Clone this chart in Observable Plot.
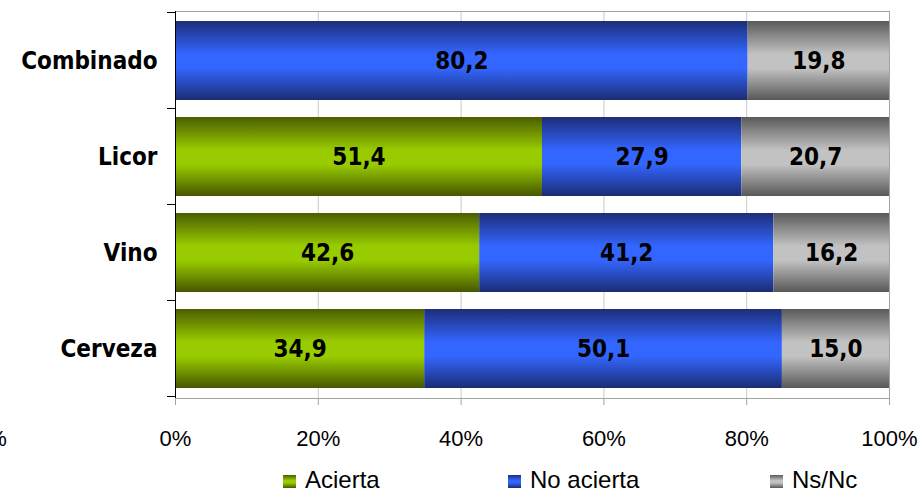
<!DOCTYPE html>
<html>
<head>
<meta charset="utf-8">
<script src="https://cdn.jsdelivr.net/npm/d3@7"></script>
<script src="https://cdn.jsdelivr.net/npm/@observablehq/plot@0.6"></script>
<style>
  html, body { margin: 0; padding: 0; background: #fff; overflow: hidden; }
  #wrap { position: relative; width: 922px; height: 493px; }
  .leg-sw { position: absolute; width: 13px; height: 13px; }
  .leg-tx { position: absolute; font: 24px "Liberation Sans", Arial, sans-serif; color: #000; line-height: 22px; white-space: nowrap; }
  #frag { position: absolute; left: -25px; top: 426px; font: 22px "Liberation Sans", Arial, sans-serif; color: #000; white-space: nowrap; }
</style>
</head>
<body>
<div id="wrap"></div>
<script>
// ---- data ----
const categories = ["Combinado", "Licor", "Vino", "Cerveza"];
const series = ["Acierta", "No acierta", "Ns/Nc"];
const acierta   = [0, 51.4, 42.6, 34.9];   // Combinado has no "Acierta" segment
const noAcierta = [80.2, 27.9, 41.2, 50.1];
const nsnc      = [19.8, 20.7, 16.2, 15.0];
const xTicks = [0, 20, 40, 60, 80, 100];
const xTickLabels = ["0%", "20%", "40%", "60%", "80%", "100%"];

// ---- styles ----
const gradients = {
  Acierta:      {id: "gA", dark0: "#4b5e00", mid: "#99cc00", dark1: "#455700"},
  "No acierta": {id: "gB", dark0: "#1c2e78", mid: "#3366ff", dark1: "#1b2c72"},
  "Ns/Nc":      {id: "gC", dark0: "#5a5a5a", mid: "#c2c2c2", dark1: "#585858"}
};
const boldFont = '"DejaVu Sans Condensed", "DejaVu Sans", sans-serif';

const valuesBySeries = [acierta, noAcierta, nsnc];
const data = [];
categories.forEach((cat, i) => {
  series.forEach((s, j) => {
    const v = valuesBySeries[j][i];
    if (v > 0) data.push({cat, series: s, value: v});
  });
});
const fmt = v => v.toFixed(1).replace(".", ",");

const plot = Plot.plot({
  width: 922,
  height: 455,
  marginLeft: 175,
  marginRight: 33,
  marginTop: 11,
  marginBottom: 57,
  x: {domain: [0, 100], label: null},
  y: {domain: categories, paddingInner: 0.175, paddingOuter: 0.0875, label: null},
  color: {domain: series, range: series.map(s => `url(#${gradients[s].id})`)},
  marks: [
    Plot.ruleX(xTicks.slice(1, -1), {stroke: "#c8c8c8"}),
    Plot.barX(data, Plot.stackX({x: "value", y: "cat", fill: "series", inset: 0})),
    Plot.frame({stroke: "#a3a3a3"}),
    Plot.ruleX([0], {stroke: "#000"}),
    Plot.axisX(xTicks, {
      tickFormat: (d) => xTickLabels[xTicks.indexOf(d)],
      tickSize: 7, tickPadding: 25,
      stroke: "#a3a3a3", fill: "#000",
      fontSize: 22, fontFamily: '"Liberation Sans", Arial, sans-serif', label: null
    }),
    Plot.axisY({
      tickSize: 0, tickPadding: 18, fill: "#000",
      fontSize: 24, fontWeight: "bold", fontFamily: boldFont, label: null
    }),
    Plot.text(data, Plot.stackX({
      x: "value", y: "cat", z: "series",
      text: d => fmt(d.value),
      fill: "#000", fontSize: 24, fontWeight: "bold", fontFamily: boldFont
    }))
  ]
});

// gradient definitions
const svg = d3.select(plot);
const defs = svg.insert("defs", ":first-child");
series.forEach(s => {
  const g = gradients[s];
  const lg = defs.append("linearGradient").attr("id", g.id)
    .attr("x1", 0).attr("y1", 0).attr("x2", 0).attr("y2", 1);
  lg.append("stop").attr("offset", "0").attr("stop-color", g.dark0);
  lg.append("stop").attr("offset", "0.42").attr("stop-color", g.mid);
  lg.append("stop").attr("offset", "0.6").attr("stop-color", g.mid);
  lg.append("stop").attr("offset", "1").attr("stop-color", g.dark1);
});

// y-axis ticks at the band boundaries
const ys = plot.scale("y");
const xs = plot.scale("x");
const half = (ys.step - ys.bandwidth) / 2;
const bounds = categories.map(c => ys.apply(c) - half);
bounds.push(ys.apply(categories[categories.length - 1]) + ys.bandwidth + half);
const x0 = xs.apply(0);
svg.append("g").selectAll("line").data(bounds).join("line")
  .attr("x1", x0 - 8).attr("x2", x0)
  .attr("y1", d => d).attr("y2", d => d)
  .attr("stroke", "#000");

const wrap = document.getElementById("wrap");
wrap.appendChild(plot);

// clipped stray label on the left edge (as in the reference)
const frag = document.createElement("span");
frag.id = "frag";
frag.textContent = xTickLabels[0];
wrap.appendChild(frag);

// legend
const legendX = {"Acierta": 283, "No acierta": 508, "Ns/Nc": 770};
series.forEach(s => {
  const g = gradients[s];
  const sw = document.createElement("div");
  sw.className = "leg-sw";
  sw.style.left = legendX[s] + "px";
  sw.style.top = "475px";
  sw.style.background = `linear-gradient(to bottom, ${g.dark0} 0%, ${g.mid} 42%, ${g.mid} 60%, ${g.dark1} 100%)`;
  wrap.appendChild(sw);
  const tx = document.createElement("span");
  tx.className = "leg-tx";
  tx.style.left = (legendX[s] + 22) + "px";
  tx.style.top = "469px";
  tx.textContent = s;
  wrap.appendChild(tx);
});
</script>
</body>
</html>
